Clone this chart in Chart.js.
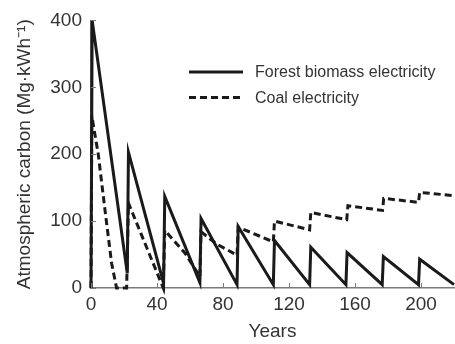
<!DOCTYPE html>
<html>
<head>
<meta charset="utf-8">
<script src="https://cdn.jsdelivr.net/npm/chart.js@4"></script>
<style>
  html, body { margin: 0; padding: 0; background: #fff; }
  #wrap { width: 455px; height: 344px; }
</style>
</head>
<body>
<div id="wrap"><canvas id="carbonChart"></canvas></div>
<script>
// series (years, Mg per kWh)
const forestYears = [0, 0.7, 22, 22.7, 44, 44.7, 66, 66.7, 88.5, 89.2, 110.5, 111.2, 132.5, 133.2, 154.5, 155.2, 176.5, 177.2, 198.5, 199.2, 220];
const forestValues = [0, 400, 22, 203, 7, 137, 8, 104, 5, 92, 5, 71, 5, 61, 5, 53, 5, 47, 5, 43, 5];

const coalYears = [0, 0.5, 4.4, 8.5, 12.5, 15.5, 21.6, 22.7, 43.8, 44.7, 57, 66, 66.7, 76, 88.5, 89.2, 110.5, 111.2, 132.5, 133.2, 155, 155.7, 176.7, 177.4, 198.5, 199.2, 220];
const coalValues = [0, 257, 200, 116, 37, 0, 0, 127, 0, 86, 52, 17, 84, 66, 49, 91, 69, 100, 87, 113, 102, 123, 116, 134, 128, 143, 138];

const seriesNames = ["Forest biomass electricity", "Coal electricity"];
const xTicks = [0, 40, 80, 120, 160, 200];
const yTicks = [0, 100, 200, 300, 400];

const FONT = "'Liberation Sans', Arial, sans-serif";
const INK = "#1a1a1a";
const AXIS = "#7a7a7a";

function toPoints(xs, ys) {
  return xs.map((x, i) => ({ x: x, y: ys[i] }));
}

// small inward tick marks + the legend inside the plot
const decorations = {
  id: "decorations",
  afterDraw(chart) {
    const ctx = chart.ctx;
    const xs = chart.scales.x;
    const ys = chart.scales.y;
    const area = chart.chartArea;
    ctx.save();
    ctx.strokeStyle = AXIS;
    ctx.lineWidth = 1;
    xTicks.forEach(v => {
      const px = Math.round(xs.getPixelForValue(v)) + 0.5;
      ctx.beginPath();
      ctx.moveTo(px, area.bottom);
      ctx.lineTo(px, area.bottom - 5);
      ctx.stroke();
    });
    yTicks.forEach(v => {
      const py = Math.round(ys.getPixelForValue(v)) + 0.5;
      ctx.beginPath();
      ctx.moveTo(area.left, py);
      ctx.lineTo(area.left + 5, py);
      ctx.stroke();
    });

    // legend
    const items = [
      { label: seriesNames[0], dash: [] , y: 72 },
      { label: seriesNames[1], dash: [7, 4], y: 97.5 }
    ];
    ctx.strokeStyle = INK;
    ctx.fillStyle = "#333";
    ctx.lineWidth = 3;
    ctx.font = "16px " + FONT;
    ctx.textBaseline = "middle";
    items.forEach(it => {
      ctx.setLineDash(it.dash);
      ctx.beginPath();
      ctx.moveTo(189, it.y);
      ctx.lineTo(243, it.y);
      ctx.stroke();
      ctx.fillText(it.label, 255, it.y + 1);
    });
    ctx.restore();
  }
};

const ctx = document.getElementById("carbonChart").getContext("2d");
const carbonChart = new Chart(ctx, {
  type: "line",
  data: {
    datasets: [
      {
        label: seriesNames[0],
        data: toPoints(forestYears, forestValues),
        borderColor: INK,
        borderWidth: 3,
        pointRadius: 0,
        tension: 0,
        clip: false,
      },
      {
        label: seriesNames[1],
        data: toPoints(coalYears, coalValues),
        borderColor: INK,
        borderWidth: 3,
        borderDash: [7, 4],
        pointRadius: 0,
        tension: 0,
        clip: false,
      },
    ],
  },
  options: {
    responsive: true,
    maintainAspectRatio: false,
    animation: false,
    layout: { padding: { top: 19, right: 1, left: 0, bottom: 0 } },
    plugins: {
      legend: { display: false },
      tooltip: { enabled: false },
    },
    scales: {
      x: {
        type: "linear",
        min: 0,
        max: 220,
        afterFit: (s) => { s.height = 56; },
        grid: { drawOnChartArea: false, drawTicks: false },
        border: { color: AXIS, width: 1.5 },
        ticks: {
          stepSize: 40,
          includeBounds: false,
          padding: 5,
          color: "#333",
          font: { family: FONT, size: 19 },
        },
        title: {
          display: true,
          text: "Years",
          color: "#333",
          font: { family: FONT, size: 19 },
          padding: { top: 0, bottom: 1 },
        },
      },
      y: {
        min: 0,
        max: 400,
        afterFit: (s) => { s.width = 91; },
        grid: { drawOnChartArea: false, drawTicks: false },
        border: { color: AXIS, width: 1.5 },
        ticks: {
          stepSize: 100,
          padding: 9,
          color: "#333",
          font: { family: FONT, size: 19 },
        },
        title: {
          display: true,
          text: "Atmospheric carbon (Mg·kWh⁻¹)",
          color: "#333",
          font: { family: FONT, size: 19 },
          padding: { top: 13, bottom: 0 },
        },
      },
    },
  },
  plugins: [decorations],
});
</script>
</body>
</html>
